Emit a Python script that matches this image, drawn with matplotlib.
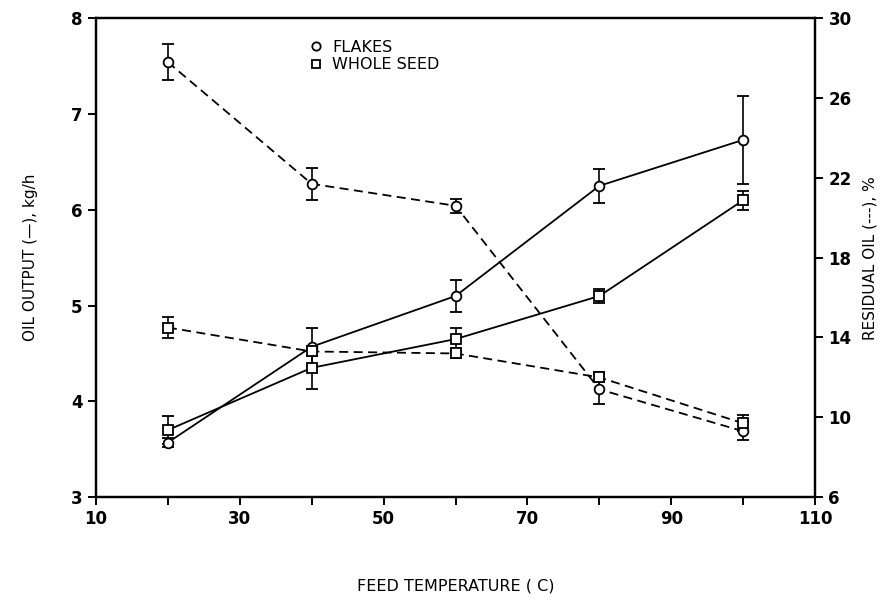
import matplotlib
matplotlib.use('Agg')
import matplotlib.pyplot as plt

# feed temperature (C)
temp = [20, 40, 60, 80, 100]

# oil output, kg/h (solid lines, left axis)
out_flakes = [3.57, 4.57, 5.10, 6.25, 6.73]
out_flakes_err = [0.05, 0.20, 0.17, 0.18, 0.46]
out_whole = [3.70, 4.35, 4.65, 5.10, 6.10]
out_whole_err = [0.15, 0.22, 0.12, 0.07, 0.10]

# residual oil, % (dashed lines, right axis)
res_flakes = [27.8, 21.7, 20.6, 11.4, 9.3]
res_flakes_err = [0.9, 0.8, 0.35, 0.75, 0.45]
res_whole = [14.5, 13.3, 13.2, 12.0, 9.7]
res_whole_err = [0.55, 0.25, 0.25, 0.25, 0.4]

plt.rcParams['font.family'] = ['DejaVu Sans']

fig = plt.figure(figsize=(8.88, 6.07), dpi=100)
ax = fig.add_axes([0.108, 0.181, 0.810, 0.789])
ax2 = ax.twinx()

mk = dict(markersize=7, markerfacecolor='white', markeredgecolor='black',
          markeredgewidth=1.3, color='black', linewidth=1.3,
          ecolor='black', elinewidth=1.2, capsize=4, capthick=1.2)

ax.errorbar(temp, out_flakes, yerr=out_flakes_err, marker='o', linestyle='-', **mk)
ax.errorbar(temp, out_whole, yerr=out_whole_err, marker='s', linestyle='-', **mk)
ax2.errorbar(temp, res_flakes, yerr=res_flakes_err, marker='o', linestyle=(0, (5, 3)), **mk)
ax2.errorbar(temp, res_whole, yerr=res_whole_err, marker='s', linestyle=(0, (5, 3)), **mk)

ax.set_xlim(10, 110)
ax.set_ylim(3, 8)
ax2.set_ylim(6, 30)
ax.set_xticks(range(10, 111, 10))
ax.set_xticklabels(['10', '', '30', '', '50', '', '70', '', '90', '', '110'])
ax.set_yticks([3, 4, 5, 6, 7, 8])
ax2.set_yticks([6, 10, 14, 18, 22, 26, 30])

for a in (ax, ax2):
    for s in a.spines.values():
        s.set_linewidth(1.6)
    a.tick_params(direction='out', length=6, width=1.4, labelsize=12)
    for t in a.get_xticklabels() + a.get_yticklabels():
        t.set_fontweight('bold')

ax.set_xlabel('FEED TEMPERATURE ( C)', fontsize=11.5, labelpad=36)
ax.set_ylabel('OIL OUTPUT (\u2014), kg/h', fontsize=11, labelpad=24)
ax2.set_ylabel('RESIDUAL OIL (---), %', fontsize=11, rotation=90, labelpad=8)

# legend as drawn in the figure
ax.plot([], [], 'o', markersize=6, markerfacecolor='white', markeredgecolor='black',
        markeredgewidth=1.3, label='FLAKES')
ax.plot([], [], 's', markersize=6, markerfacecolor='white', markeredgecolor='black',
        markeredgewidth=1.3, label='WHOLE SEED')
ax.legend(loc='upper left', bbox_to_anchor=(0.275, 0.985), frameon=False,
          fontsize=11.5, handlelength=1.0, handletextpad=0.5, labelspacing=0.15)

plt.savefig('out.png', dpi=100)
